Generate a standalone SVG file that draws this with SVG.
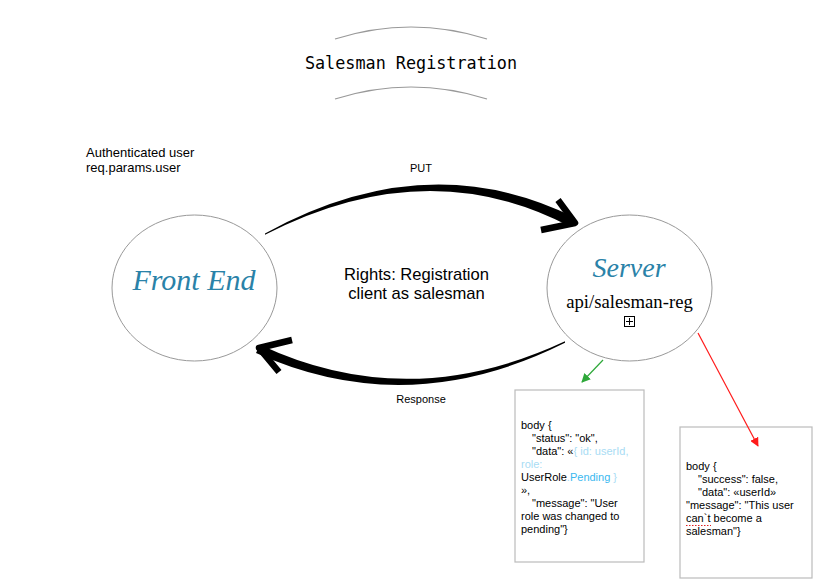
<svg xmlns="http://www.w3.org/2000/svg" width="829" height="588" viewBox="0 0 829 588">
<defs>
<style>
.sans{font-family:"Liberation Sans",Arial,sans-serif;fill:#000}
.node{fill:#fff;stroke:#999;stroke-width:1}
.title-arc{fill:none;stroke:#999;stroke-width:1.2}
.nodelabel{font-family:"Liberation Serif","DejaVu Serif",serif;font-style:italic;fill:#2a82a8}
.box{fill:#fff;stroke:#bbb;stroke-width:1.2}
.lb{fill:#a8dcf4}
.db{fill:#3ab8ef}
</style>
<marker id="greenHead" viewBox="0 0 10 10" refX="9" refY="5" markerWidth="9" markerHeight="9" markerUnits="userSpaceOnUse" orient="auto">
<path d="M0,0 L10,5 L0,10 Z" fill="#2ea83a"/>
</marker>
<marker id="redHead" viewBox="0 0 10 10" refX="9" refY="5" markerWidth="9" markerHeight="9" markerUnits="userSpaceOnUse" orient="auto">
<path d="M0,0 L10,5 L0,10 Z" fill="#ff1a1a"/>
</marker>
</defs>
<rect width="829" height="588" fill="#fff"/>

<g id="title">
<path class="title-arc" d="M335,39 Q411,15 487,39"/>
<path class="title-arc" d="M335,99 Q411,75 487,99"/>
<text x="411" y="69" text-anchor="middle" font-family="'DejaVu Sans Mono','Liberation Mono',monospace" font-size="16.8" fill="#000">Salesman Registration</text>
</g>

<g id="auth-label">
<text class="sans" x="86" y="157" font-size="13">Authenticated user</text>
<text class="sans" x="86" y="172" font-size="13">req.params.user</text>
</g>

<g id="rights-label">
<text class="sans" x="416.5" y="280" font-size="16.6" text-anchor="middle">Rights: Registration</text>
<text class="sans" x="416.5" y="299" font-size="16.6" text-anchor="middle">client as salesman</text>
</g>

<g id="front-end">
<ellipse class="node" cx="194.5" cy="288" rx="82.5" ry="73"/>
<text class="nodelabel" x="194" y="290" font-size="30" text-anchor="middle">Front End</text>
</g>

<g id="server">
<ellipse class="node" cx="629.5" cy="288" rx="82.5" ry="73"/>
<text class="nodelabel" x="629" y="277" font-size="28" text-anchor="middle">Server</text>
<text x="629.5" y="308" font-family="'Liberation Serif','Times New Roman',serif" font-size="18.7" text-anchor="middle" fill="#000">api/salesman-reg</text>
<rect x="624.5" y="316.5" width="10" height="10" fill="#fff" stroke="#000" stroke-width="1"/>
<path d="M629.5,318 V325 M626,321.5 H633" stroke="#000" stroke-width="1"/>
</g>

<g id="success-box">
<rect class="box" x="515" y="390" width="129" height="172"/>
<text class="sans" font-size="11">
<tspan x="521" y="429">body {</tspan>
<tspan x="532" y="442">"status": "ok",</tspan>
<tspan x="532" y="455">"data": «<tspan class="lb">{ id: userId,</tspan></tspan>
<tspan x="521" y="468" class="lb">role:</tspan>
<tspan x="521" y="481">UserRole<tspan class="lb">.</tspan><tspan class="db">Pending</tspan><tspan class="lb"> }</tspan></tspan>
<tspan x="521" y="494">»,</tspan>
<tspan x="532" y="507">"message": "User</tspan>
<tspan x="521" y="520">role was changed to</tspan>
<tspan x="521" y="533">pending"}</tspan>
</text>
</g>

<g id="error-box">
<rect class="box" x="680" y="427" width="132" height="151"/>
<text class="sans" font-size="11">
<tspan x="686" y="470">body {</tspan>
<tspan x="698" y="483">"success": false,</tspan>
<tspan x="698" y="496">"data": «userId»</tspan>
<tspan x="686" y="509">"message": "This user</tspan>
<tspan x="686" y="522">can`t become a</tspan>
<tspan x="686" y="535">salesman"}</tspan>
</text>
<path d="M686,525.5 H711" stroke="#e02020" stroke-width="1" stroke-dasharray="1.5,1.5"/>
</g>

<g id="connectors">
<path d="M265,233.5 Q427,144.5 574.5,217.5 L570,226.5 Q427,151.5 265,234.8 Z" fill="#000"/>
<path d="M558,200 L575,223 L541,230" fill="none" stroke="#000" stroke-width="6.5" stroke-linejoin="round"/>
<text class="sans" x="421" y="172" font-size="11" text-anchor="middle">PUT</text>

<path d="M565,341.3 Q408,414.5 260,344.8 L256,353 Q408,421.5 565,342.8 Z" fill="#000"/>
<path d="M292,340 L259,348 L279,372" fill="none" stroke="#000" stroke-width="6.5" stroke-linejoin="round"/>
<text class="sans" x="421" y="403" font-size="11" text-anchor="middle">Response</text>

<path d="M603,360 L582,382" stroke="#2ea83a" stroke-width="1.2" fill="none" marker-end="url(#greenHead)"/>
<path d="M698,333 L758,446" stroke="#ff1a1a" stroke-width="1.2" fill="none" marker-end="url(#redHead)"/>
</g>
</svg>
